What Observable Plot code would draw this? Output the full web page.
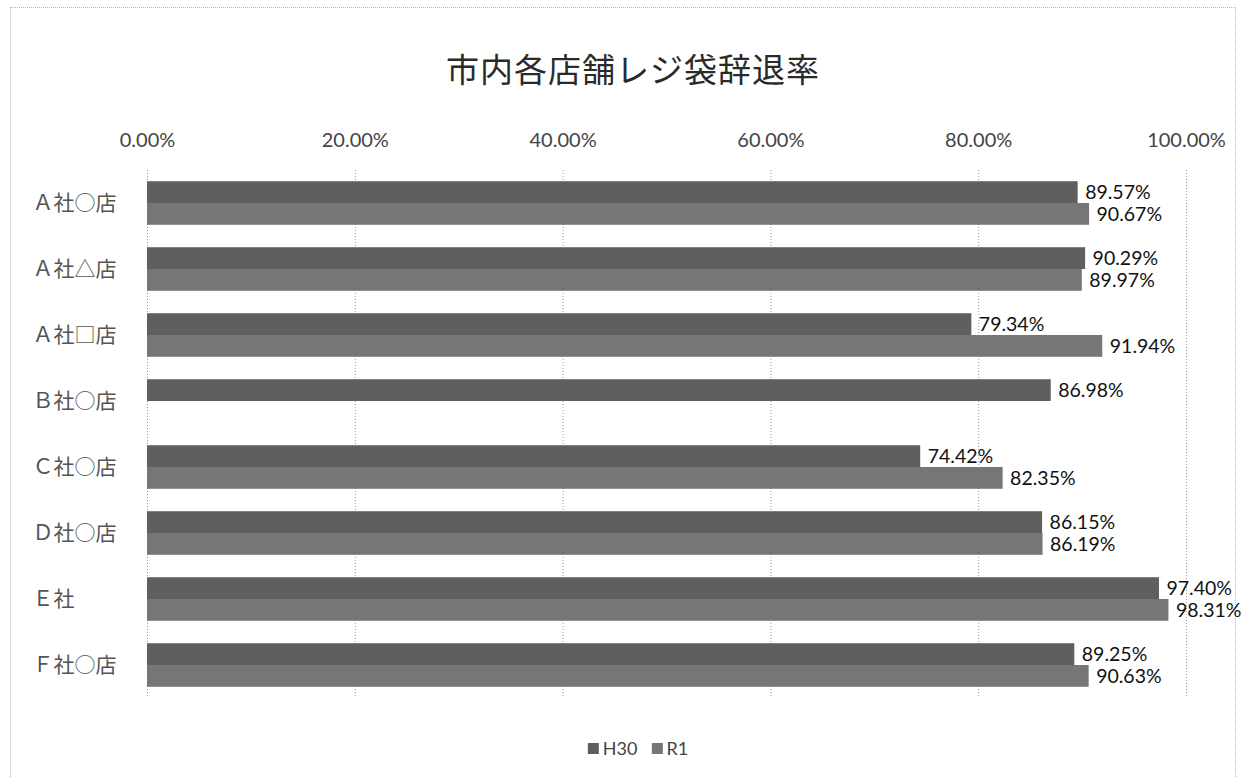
<!DOCTYPE html>
<html>
<head>
<meta charset="utf-8">
<script src="https://cdn.jsdelivr.net/npm/d3@7"></script>
<script src="https://cdn.jsdelivr.net/npm/@observablehq/plot@0.6"></script>
<style>
  html, body { margin: 0; padding: 0; background: #fff; }
  #wrap { position: relative; width: 1246px; height: 778px; overflow: hidden; }
  #border { position: absolute; left: 10px; top: 7px; width: 1226px; height: 790px; border: 1px dotted #b8b8b8; box-sizing: border-box; }
  #title { position: absolute; left: 633px; top: 48px; transform: translateX(-50%); white-space: nowrap;
           font-family: "Noto Sans CJK JP", sans-serif; font-size: 33px; color: #2a2a2a; line-height: 40px; letter-spacing: 1px; }
  #legend { position: absolute; left: 638px; top: 736px; transform: translateX(-50%); white-space: nowrap;
            font-family: Lato, "Noto Sans", sans-serif; font-size: 18px; color: #444; line-height: 24px; display: flex; align-items: center; gap: 14px; }
  #legend span.item { display: flex; align-items: center; gap: 4px; }
  #legend span.sw { display: inline-block; width: 11px; height: 11px; }
  #chart { position: absolute; left: 0; top: 0; }
</style>
</head>
<body>
<div id="wrap">
  <div id="border"></div>
  <div id="chart"></div>
  <div id="title">市内各店舗レジ袋辞退率</div>
  <div id="legend"></div>
</div>
<script>
const stores = ["Ａ社○店", "Ａ社△店", "Ａ社□店", "Ｂ社○店", "Ｃ社○店", "Ｄ社○店", "Ｅ社", "Ｆ社○店"];
const seriesNames = ["H30", "R1"];
const h30 = [89.57, 90.29, 79.34, 86.98, 74.42, 86.15, 97.40, 89.25];
const r1  = [90.67, 89.97, 91.94, null, 82.35, 86.19, 98.31, 90.63];
const xTicks = [0, 20, 40, 60, 80, 100];
const colors = {H30: "#5f5f5f", R1: "#767676"};

const half = 0.33; // bar thickness in row units
const rows = [];
stores.forEach((s, i) => {
  if (h30[i] != null) rows.push({store: s, series: "H30", value: h30[i], y1: i - half, y2: i});
  if (r1[i] != null) rows.push({store: s, series: "R1", value: r1[i], y1: i, y2: i + half});
});

const chart = Plot.plot({
  width: 1246,
  height: 778,
  marginLeft: 147,
  marginRight: 60,
  marginTop: 170,
  marginBottom: 80,
  style: {background: "transparent", overflow: "visible"},
  x: {domain: [0, 100], axis: null, label: null},
  y: {domain: [-0.5, stores.length - 0.5], reverse: true, axis: null, label: null},
  color: {domain: seriesNames, range: seriesNames.map(s => colors[s])},
  marks: [
    Plot.ruleX(xTicks, {stroke: "#9a9a9a", strokeWidth: 1, strokeDasharray: "1,2"}),
    Plot.rect(rows, {x1: 0, x2: "value", y1: "y1", y2: "y2", fill: "series"}),
    Plot.text(rows, {
      x: "value", y: d => (d.y1 + d.y2) / 2,
      text: d => d.value.toFixed(2) + "%",
      textAnchor: "start", dx: 7,
      fontSize: 19.5, fill: "#111", fontFamily: "Lato, 'Noto Sans', sans-serif"
    }),
    Plot.axisX(xTicks, {
      anchor: "top", tickSize: 0, tickPadding: 24, label: null,
      tickFormat: d => d.toFixed(2) + "%",
      fontSize: 20, fill: "#444", fontFamily: "Lato, 'Noto Sans', sans-serif"
    }),
    Plot.axisY(d3.range(stores.length), {
      anchor: "left", tickSize: 0, tickPadding: 115, textAnchor: "start", label: null,
      tickFormat: i => stores[i],
      fontSize: 21, fill: "#555", fontFamily: "'Noto Sans CJK JP', sans-serif"
    })
  ]
});
document.getElementById("chart").appendChild(chart);

const legend = document.getElementById("legend");
seriesNames.forEach(s => {
  const item = document.createElement("span");
  item.className = "item";
  const sw = document.createElement("span");
  sw.className = "sw";
  sw.style.background = colors[s];
  item.appendChild(sw);
  item.appendChild(document.createTextNode(s));
  legend.appendChild(item);
});
</script>
</body>
</html>
